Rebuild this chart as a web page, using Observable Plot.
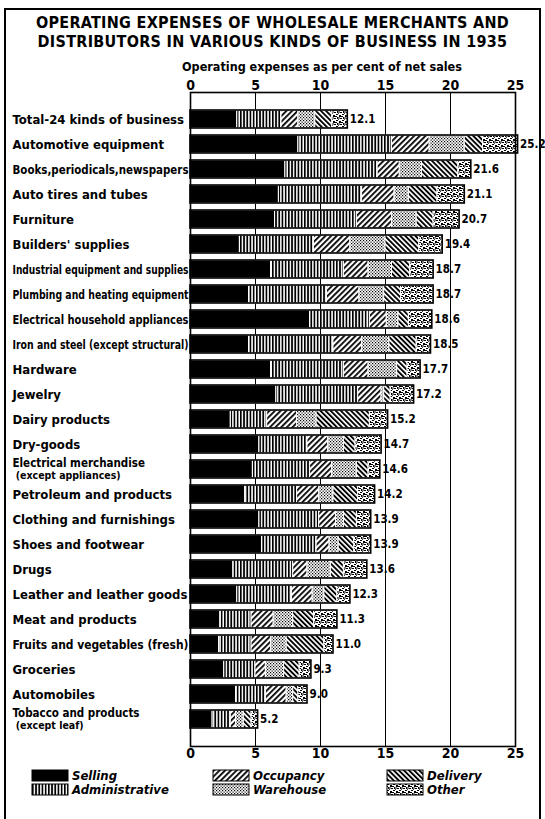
<!DOCTYPE html>
<html>
<head>
<meta charset="utf-8">
<script src="https://cdn.jsdelivr.net/npm/d3@7"></script>
<script src="https://cdn.jsdelivr.net/npm/@observablehq/plot@0.6"></script>
<style>
  body { margin: 0; background: #fff; }
  #page { position: relative; width: 545px; height: 819px; overflow: hidden; background: #fff;
          font-family: "DejaVu Sans Condensed", "DejaVu Sans", sans-serif; color: #000; }
  #border { position: absolute; left: 4px; top: 8px; width: 537px; height: 830px;
            border: 2px solid #000; box-sizing: border-box; }
  #title { position: absolute; left: 0; top: 13px; width: 545px; text-align: center;
           font-weight: bold; font-size: 16px; line-height: 19px; letter-spacing: 0.3px; }
  #subtitle { position: absolute; left: 162px; top: 59px; width: 320px; text-align: center; white-space: nowrap;
              font-weight: 600; font-size: 12.5px; }
  #chart { position: absolute; left: 0; top: 0; }
  #legend { position: absolute; left: 0; top: 765px; }
</style>
</head>
<body>
<div id="page">
  <svg width="0" height="0" style="position:absolute">
    <defs>
      <pattern id="p-adm" patternUnits="userSpaceOnUse" width="3.2" height="4">
        <rect width="3.2" height="4" fill="#fff"/><rect width="1.7" height="4" fill="#000"/>
      </pattern>
      <pattern id="p-occ" patternUnits="userSpaceOnUse" width="4" height="4" patternTransform="rotate(45)">
        <rect width="4" height="4" fill="#fff"/><rect width="1.8" height="4" fill="#000"/>
      </pattern>
      <pattern id="p-war" patternUnits="userSpaceOnUse" width="3" height="3">
        <rect width="3" height="3" fill="#fff"/>
        <rect x="0" y="0" width="1.2" height="1.2" fill="#000"/>
        <rect x="1.5" y="1.5" width="1.2" height="1.2" fill="#000"/>
      </pattern>
      <pattern id="p-del" patternUnits="userSpaceOnUse" width="3.6" height="4" patternTransform="rotate(-45)">
        <rect width="3.6" height="4" fill="#fff"/><rect width="1.9" height="4" fill="#000"/>
      </pattern>
      <pattern id="p-oth" patternUnits="userSpaceOnUse" width="6" height="6">
        <rect width="6" height="6" fill="#fff"/>
        <path d="M0 0h2v1H0z M3 1h2v2H3z M1 3h1.5v2H1z M4 4h2v1H4z M2 5.2h1v0.8H2z M5 2h1v1H5z M0 2h1v1H0z M3 3.5h1v1H3z" fill="#000"/>
      </pattern>
    </defs>
  </svg>
  <div id="border"></div>
  <div id="title">OPERATING EXPENSES OF WHOLESALE MERCHANTS AND<br>DISTRIBUTORS IN VARIOUS KINDS OF BUSINESS IN 1935</div>
  <div id="subtitle">Operating expenses as per cent of net sales</div>
  <div id="chart"></div>
  <div id="legend"></div>
</div>
<script>
// ---------------- data ----------------
const businesses = [
  "Total-24 kinds of business",
  "Automotive equipment",
  "Books,periodicals,newspapers",
  "Auto tires and tubes",
  "Furniture",
  "Builders' supplies",
  "Industrial equipment and supplies",
  "Plumbing and heating equipment",
  "Electrical household appliances",
  "Iron and steel (except structural)",
  "Hardware",
  "Jewelry",
  "Dairy products",
  "Dry-goods",
  "Electrical merchandise\n (except appliances)",
  "Petroleum and products",
  "Clothing and furnishings",
  "Shoes and footwear",
  "Drugs",
  "Leather and leather goods",
  "Meat and products",
  "Fruits and vegetables (fresh)",
  "Groceries",
  "Automobiles",
  "Tobacco and products\n (except leaf)"
];
const selling        = [3.6, 8.3, 7.3, 6.8, 6.5, 3.8, 6.2, 4.5, 9.2, 4.5, 6.2, 6.6, 3.1, 5.3, 4.8, 4.2, 5.3, 5.5, 3.3, 3.6, 2.3, 2.2, 2.6, 3.5, 1.7];
const administrative = [3.4, 7.2, 7.1, 6.4, 6.3, 5.7, 5.6, 6.0, 4.6, 6.5, 5.6, 6.3, 2.8, 3.7, 4.4, 4.0, 4.6, 4.2, 4.6, 4.2, 2.4, 2.5, 2.4, 2.3, 1.4];
const occupancy      = [1.3, 2.9, 1.7, 2.5, 2.7, 2.8, 1.9, 2.5, 1.3, 2.2, 1.9, 1.8, 2.3, 1.6, 1.7, 1.7, 1.3, 1.0, 1.1, 1.6, 1.7, 1.5, 0.8, 1.6, 0.4];
const warehouse      = [1.3, 2.7, 1.7, 1.1, 1.9, 2.7, 1.8, 1.9, 0.9, 2.1, 2.2, 0.2, 1.5, 1.2, 1.9, 1.1, 0.6, 0.7, 1.8, 0.9, 1.5, 1.2, 1.4, 0.5, 0.6];
const delivery       = [1.3, 1.4, 2.8, 2.2, 1.3, 2.6, 1.4, 1.3, 0.8, 2.1, 0.8, 0.5, 4.1, 0.9, 0.9, 1.9, 1.0, 1.2, 1.0, 1.0, 1.6, 2.9, 1.2, 0.4, 0.6];
const other          = [1.2, 2.7, 1.0, 2.1, 2.0, 1.8, 1.8, 2.5, 1.8, 1.1, 1.0, 1.8, 1.4, 2.0, 0.9, 1.3, 1.1, 1.3, 1.8, 1.0, 1.8, 0.7, 0.9, 0.7, 0.5];
const totals         = [12.1, 25.2, 21.6, 21.1, 20.7, 19.4, 18.7, 18.7, 18.6, 18.5, 17.7, 17.2, 15.2, 14.7, 14.6, 14.2, 13.9, 13.9, 13.6, 12.3, 11.3, 11.0, 9.3, 9.0, 5.2];
const categories = ["Selling", "Administrative", "Occupancy", "Warehouse", "Delivery", "Other"];
const xTicks = [0, 5, 10, 15, 20, 25];
const gridTicks = [5, 10, 15, 20];

// ---------------- build tables ----------------
const seriesValues = [selling, administrative, occupancy, warehouse, delivery, other];
const segments = [];
businesses.forEach((b, i) => {
  categories.forEach((c, j) => segments.push({business: b, category: c, value: seriesValues[j][i]}));
});
const totalRows = businesses.map((b, i) => ({business: b, total: totals[i]}));
const fills = ["#000", "url(#p-adm)", "url(#p-occ)", "url(#p-war)", "url(#p-del)", "url(#p-oth)"];

const font = "'DejaVu Sans Condensed', 'DejaVu Sans', sans-serif";

const chart = Plot.plot({
  width: 545,
  height: 770,
  marginTop: 92,
  marginBottom: 24,
  marginLeft: 190,
  marginRight: 30,
  style: {fontFamily: font, background: "transparent", color: "#000"},
  x: {domain: [0, 25], ticks: xTicks},
  y: {domain: businesses, padding: 0.27},
  color: {type: "ordinal", domain: categories, range: fills},
  marks: [
    Plot.gridX(gridTicks, {stroke: "#000", strokeOpacity: 1, strokeWidth: 1}),
    Plot.barX(segments, Plot.stackX({y: "business", x: "value", fill: "category", stroke: "#fff", strokeWidth: 1})),
    Plot.barX(totalRows, {y: "business", x: "total", fill: "none", stroke: "#000", strokeWidth: 1.6}),
    Plot.text(totalRows, {y: "business", x: "total", text: d => d.total.toFixed(1), dx: 2, textAnchor: "start",
                          fontWeight: "bold", fontSize: 11.5, fill: "#000"}),
    Plot.axisX({anchor: "top", ticks: xTicks, tickSize: 0, tickPadding: 3, label: null, fontSize: 14, fontWeight: "bold"}),
    Plot.axisX({anchor: "bottom", ticks: xTicks, tickSize: 0, tickPadding: 2, label: null, fontSize: 14, fontWeight: "bold"}),
    Plot.axisY({anchor: "left", tickSize: 0, tickPadding: 0, textAnchor: "start", dx: -178, label: null,
                fontSize: 13, fontWeight: "bold", lineHeight: 1.15}),
    Plot.frame({stroke: "#000", strokeWidth: 1.6})
  ]
});
document.getElementById("chart").append(chart);

// fit long category labels into the left margin
const maxW = 176;
chart.querySelectorAll('[aria-label="y-axis tick label"] text').forEach(t => {
  const spans = t.querySelectorAll("tspan");
  if (spans.length > 1) {
    t.setAttribute("font-size", "11.5");
    spans.forEach((s, k) => { if (k > 0) s.setAttribute("font-size", "10.5"); });
  }
  const parts = spans.length ? Array.from(spans) : [t];
  parts.forEach(p => {
    const w = p.getComputedTextLength();
    if (w > maxW) { p.setAttribute("textLength", maxW); p.setAttribute("lengthAdjust", "spacingAndGlyphs"); }
  });
});

// ---------------- legend ----------------
const lg = d3.select("#legend").append("svg").attr("width", 545).attr("height", 45);
const cols = [32, 213, 387];
categories.forEach((c, i) => {
  const col = Math.floor(i / 2), row = i % 2;
  const g = lg.append("g").attr("transform", `translate(${cols[col]},${5 + row * 14})`);
  g.append("rect").attr("width", 36).attr("height", 11).attr("fill", fills[i]).attr("stroke", "#000").attr("stroke-width", 1);
  g.append("text").attr("x", 40).attr("y", 10).text(c)
    .attr("font-family", font).attr("font-size", 13).attr("font-weight", "bold").attr("font-style", "italic");
});
</script>
</body>
</html>
